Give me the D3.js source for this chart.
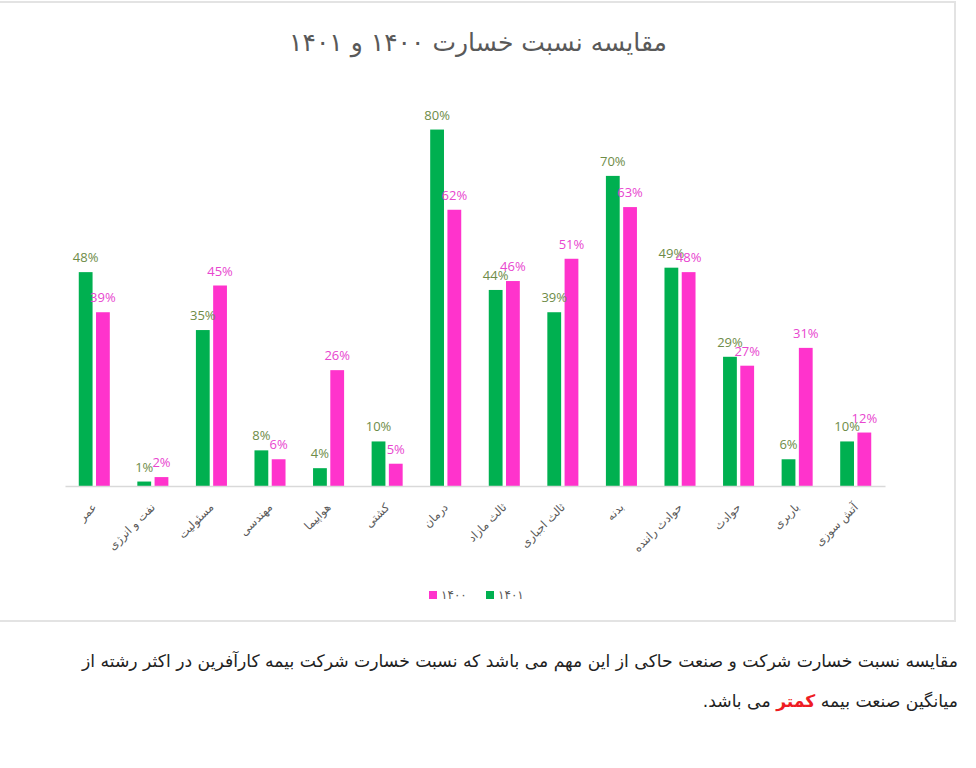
<!DOCTYPE html>
<html><head><meta charset="utf-8">
<script src="https://cdn.jsdelivr.net/npm/d3@7"></script>
<style>
body{margin:0;background:#fff;}
#wrap{position:relative;width:976px;height:768px;overflow:hidden;}
.para{position:absolute;right:18px;direction:rtl;white-space:nowrap;font-family:"DejaVu Sans",sans-serif;font-size:17.2px;color:#222;}
</style></head>
<body><div id="wrap"></div>
<script>
const title = "مقایسه نسبت خسارت ۱۴۰۰ و ۱۴۰۱";
const categories = ["عمر","نفت و انرژی","مسئولیت","مهندسی","هواپیما","کشتی","درمان","ثالث مازاد","ثالث اجباری","بدنه","حوادث راننده","حوادث","باربری","آتش سوزی"];
const seriesNames = ["۱۴۰۱","۱۴۰۰"];
const values1401 = [48,1,35,8,4,10,80,44,39,69.6,49,29,6,10];
const values1400 = [39,2,45,6,26,5,62,46,51,62.6,48,27,31,12];
const colors = {"۱۴۰۱":"#00b050","۱۴۰۰":"#ff33cc"};
const labelColors = {"۱۴۰۱":"#6e8c48","۱۴۰۰":"#e846cf"};
const paraLine1 = "مقایسه نسبت خسارت شرکت و صنعت حاکی از این مهم می باشد که نسبت خسارت شرکت بیمه کارآفرین در اکثر رشته از";
const paraLine2a = "میانگین صنعت بیمه ";
const paraLine2b = "کمتر";
const paraLine2c = " می باشد.";

const W=976,H=768;
const wrap=d3.select("#wrap");
const svg=wrap.append("svg").attr("width",W).attr("height",H).style("position","absolute").style("left",0).style("top",0);

// chart frame (left edge off-page)
svg.append("path").attr("d","M-5,2H955V621H-5").attr("fill","none").attr("stroke","#e3e3e3").attr("stroke-width",2);

svg.append("text").attr("x",478).attr("y",51).attr("text-anchor","middle")
  .attr("font-family","DejaVu Sans, sans-serif").attr("font-size",25).attr("fill","#595959").text(title);

const x0=d3.scaleBand().domain(categories).range([65,885]).paddingInner(0.47).paddingOuter(0.235);
const x1=d3.scaleBand().domain(seriesNames).range([0,x0.bandwidth()]).paddingInner(0.2);
const y=d3.scaleLinear().domain([0,90]).range([486,85]);

const data=categories.map((c,i)=>({cat:c,vals:[{s:"۱۴۰۱",v:values1401[i]},{s:"۱۴۰۰",v:values1400[i]}]}));

const g=svg.append("g").selectAll("g").data(data).join("g").attr("transform",d=>`translate(${x0(d.cat)},0)`);
g.selectAll("rect").data(d=>d.vals).join("rect")
  .attr("x",d=>x1(d.s)).attr("width",x1.bandwidth())
  .attr("y",d=>y(d.v)).attr("height",d=>y(0)-y(d.v)).attr("fill",d=>colors[d.s]);
g.selectAll("text").data(d=>d.vals).join("text")
  .attr("x",d=>x1(d.s)+x1.bandwidth()/2).attr("y",d=>y(d.v)-10)
  .attr("text-anchor","middle").attr("font-family","Open Sans, sans-serif").attr("font-size",13)
  .attr("fill",d=>labelColors[d.s]).text(d=>Math.round(d.v)+"%");

// axis
const ax=svg.append("g").attr("transform","translate(0,486)").call(d3.axisBottom(x0).tickSize(0).tickPadding(0));
ax.select(".domain").attr("stroke","#d9d9d9").attr("stroke-width",1.3);
ax.selectAll(".tick text").attr("font-family","DejaVu Sans, sans-serif").attr("font-size",11.5).attr("fill","#595959")
  .attr("text-anchor","end").attr("dy",0).attr("y",0).attr("transform","translate(3,22) rotate(-45)");

// legend
const leg=svg.append("g").attr("transform","translate(429,590)");
const legItems=[{s:"۱۴۰۰",x:0},{s:"۱۴۰۱",x:57}];
legItems.forEach(it=>{
  leg.append("rect").attr("x",it.x).attr("y",1).attr("width",8).attr("height",8).attr("fill",colors[it.s]);
  leg.append("text").attr("x",it.x+12).attr("y",9).attr("font-family","DejaVu Sans, sans-serif").attr("font-size",12).attr("fill","#595959").text(it.s);
});

// paragraph
wrap.append("div").attr("class","para").style("top","651px").text(paraLine1);
const p2=wrap.append("div").attr("class","para").style("top","691px");
p2.append("span").text(paraLine2a);
p2.append("span").style("color","#ee1c24").style("font-weight","bold").text(paraLine2b);
p2.append("span").text(paraLine2c);
</script></body></html>
